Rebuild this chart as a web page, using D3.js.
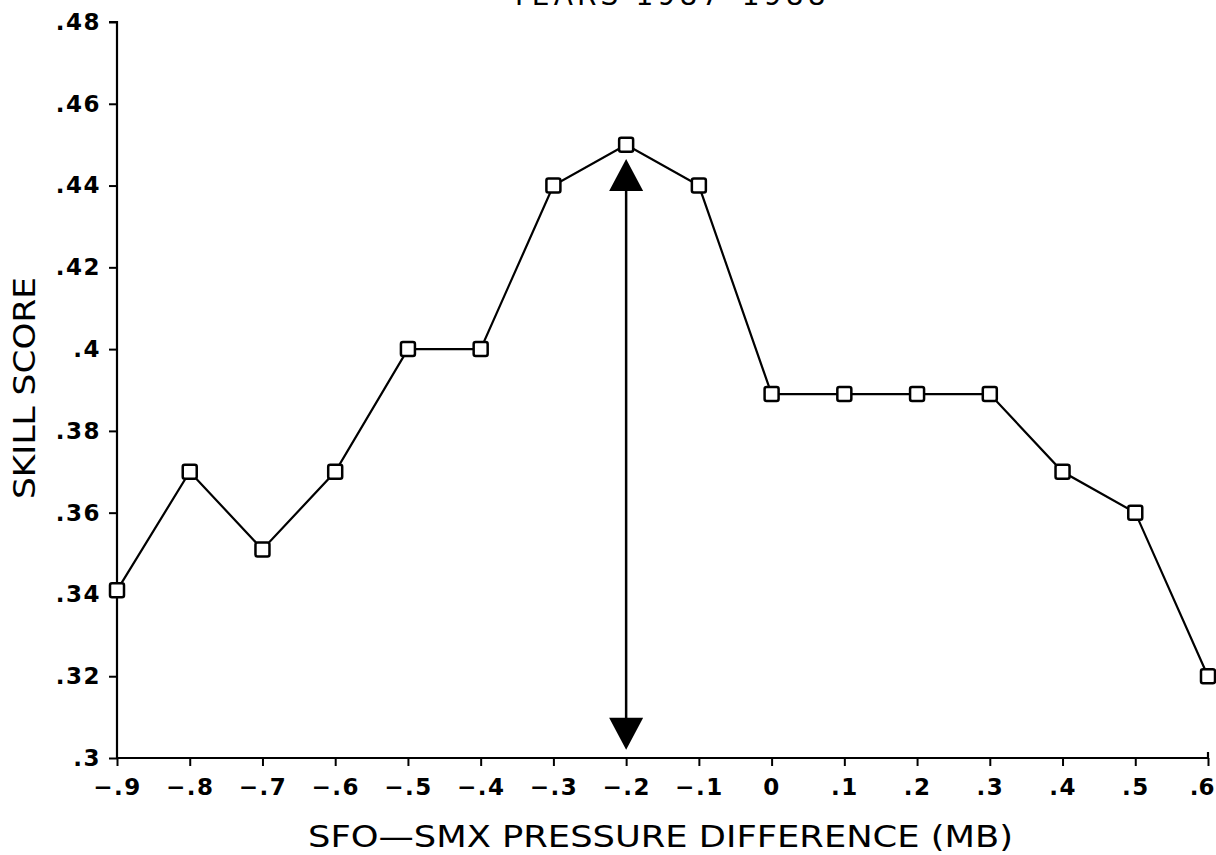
<!DOCTYPE html>
<html lang='en'>

<head>
   <meta charset='UTF-8'>
   <title>Skill score vs SFO-SMX pressure difference</title>
   <script src='https://d3js.org/d3.v7.min.js'></script>
   <style>
      body {
         margin: 0;
         background: #fff;
      }

      svg text {
         font-family: 'DejaVu Sans', sans-serif;
         fill: #000;
      }
   </style>
</head>

<body>
   <div id='chart'></div>
   <script>
      // values
      const pressureDiff = [-0.9, -0.8, -0.7, -0.6, -0.5, -0.4, -0.3, -0.2, -0.1, 0, 0.1, 0.2, 0.3, 0.4, 0.5, 0.6];
      const skillScore = [0.341, 0.37, 0.351, 0.37, 0.4, 0.4, 0.44, 0.45, 0.44, 0.389, 0.389, 0.389, 0.389, 0.37, 0.36, 0.32];
      const xTickLabels = ['\u2212.9', '\u2212.8', '\u2212.7', '\u2212.6', '\u2212.5', '\u2212.4', '\u2212.3', '\u2212.2', '\u2212.1', '0', '.1', '.2', '.3', '.4', '.5', '.6'];
      const yTicks = [0.3, 0.32, 0.34, 0.36, 0.38, 0.4, 0.42, 0.44, 0.46, 0.48];
      const yTickLabels = ['.3', '.32', '.34', '.36', '.38', '.4', '.42', '.44', '.46', '.48'];
      const bestDiff = -0.2;           // arrow marking the best threshold
      const arrowSpan = [0.4465, 0.302];

      const W = 1216, H = 855;
      const margins = { top: 22, right: 8, bottom: 97, left: 117 };
      const width = W - margins.left - margins.right;
      const height = H - margins.top - margins.bottom;

      const svg = d3.select('#chart').append('svg').attr('width', W).attr('height', H);
      const g = svg.append('g').attr('transform', `translate(${margins.left}, ${margins.top})`);

      const x = d3.scaleLinear().domain([-0.9, 0.6]).range([0, width]);
      const y = d3.scaleLinear().domain([0.3, 0.48]).range([height, 0]);

      // title, mostly cut off at the top of the scan
      svg.append('text')
         .attr('x', 668).attr('y', 5)
         .attr('text-anchor', 'middle')
         .attr('font-size', 28)
         .attr('textLength', 315)
         .text('YEARS 1987\u20131988');

      // axes
      const leftAxis = d3.axisLeft(y).tickValues(yTicks)
         .tickFormat((d, i) => yTickLabels[i]).tickSize(8).tickPadding(8);
      const yAxisG = g.append('g').call(leftAxis);

      const bottomAxis = d3.axisBottom(x).tickValues(pressureDiff)
         .tickFormat((d, i) => xTickLabels[i]).tickSize(8).tickPadding(13);
      const xAxisG = g.append('g').attr('transform', `translate(0, ${height})`).call(bottomAxis);

      [yAxisG, xAxisG].forEach(a => {
         a.attr('font-size', 23);
         a.select('.domain').attr('stroke', '#000').attr('stroke-width', 2.2);
         a.selectAll('.tick line').attr('stroke', '#000').attr('stroke-width', 2);
         a.selectAll('.tick text').attr('font-size', 23).attr('font-weight', 'bold')
            .attr('letter-spacing', 1.5);
      });
      yAxisG.select('.domain').attr('d', `M0,${height}V0H-8`);
      xAxisG.select('.domain').attr('d', `M0,0H${width}V-6`);
      // last label sits against the page edge
      xAxisG.selectAll('.tick text').filter((d, i) => i === pressureDiff.length - 1)
         .attr('text-anchor', 'end').attr('letter-spacing', 0).attr('dx', 6);

      // axis titles
      g.append('text')
         .attr('x', (308 - margins.left + 1013 - margins.left) / 2)
         .attr('y', height + 89)
         .attr('text-anchor', 'middle')
         .attr('font-size', 30)
         .attr('textLength', 705)
         .attr('lengthAdjust', 'spacingAndGlyphs')
         .text('SFO\u2014SMX PRESSURE DIFFERENCE (MB)');

      g.append('text')
         .attr('transform', `translate(${35 - margins.left}, ${388 - margins.top}) rotate(-90)`)
         .attr('text-anchor', 'middle')
         .attr('font-size', 31)
         .attr('textLength', 222)
         .attr('lengthAdjust', 'spacingAndGlyphs')
         .text('SKILL SCORE');

      // arrow at the best difference
      const ax = x(bestDiff);
      g.append('line')
         .attr('x1', ax).attr('x2', ax)
         .attr('y1', y(arrowSpan[0]) + 25).attr('y2', y(arrowSpan[1]) - 25)
         .attr('stroke', '#000').attr('stroke-width', 2.5);
      const upTip = y(arrowSpan[0]), downTip = y(arrowSpan[1]);
      g.append('path')
         .attr('d', `M${ax},${upTip}L${ax - 17},${upTip + 32}L${ax + 17},${upTip + 32}Z`)
         .attr('fill', '#000');
      g.append('path')
         .attr('d', `M${ax},${downTip}L${ax - 17},${downTip - 32}L${ax + 17},${downTip - 32}Z`)
         .attr('fill', '#000');

      // data line and markers
      const data = pressureDiff.map((d, i) => ({ diff: d, score: skillScore[i] }));
      const line = d3.line().x(d => x(d.diff)).y(d => y(d.score));
      g.append('path')
         .datum(data)
         .attr('d', line)
         .attr('fill', 'none')
         .attr('stroke', '#000')
         .attr('stroke-width', 2.2);

      g.selectAll('rect.marker').data(data).enter().append('rect')
         .attr('class', 'marker')
         .attr('x', d => x(d.diff) - 7)
         .attr('y', d => y(d.score) - 7)
         .attr('width', 14).attr('height', 14)
         .attr('rx', 2)
         .attr('fill', '#fff')
         .attr('stroke', '#000')
         .attr('stroke-width', 2.5);
   </script>
</body>

</html>
